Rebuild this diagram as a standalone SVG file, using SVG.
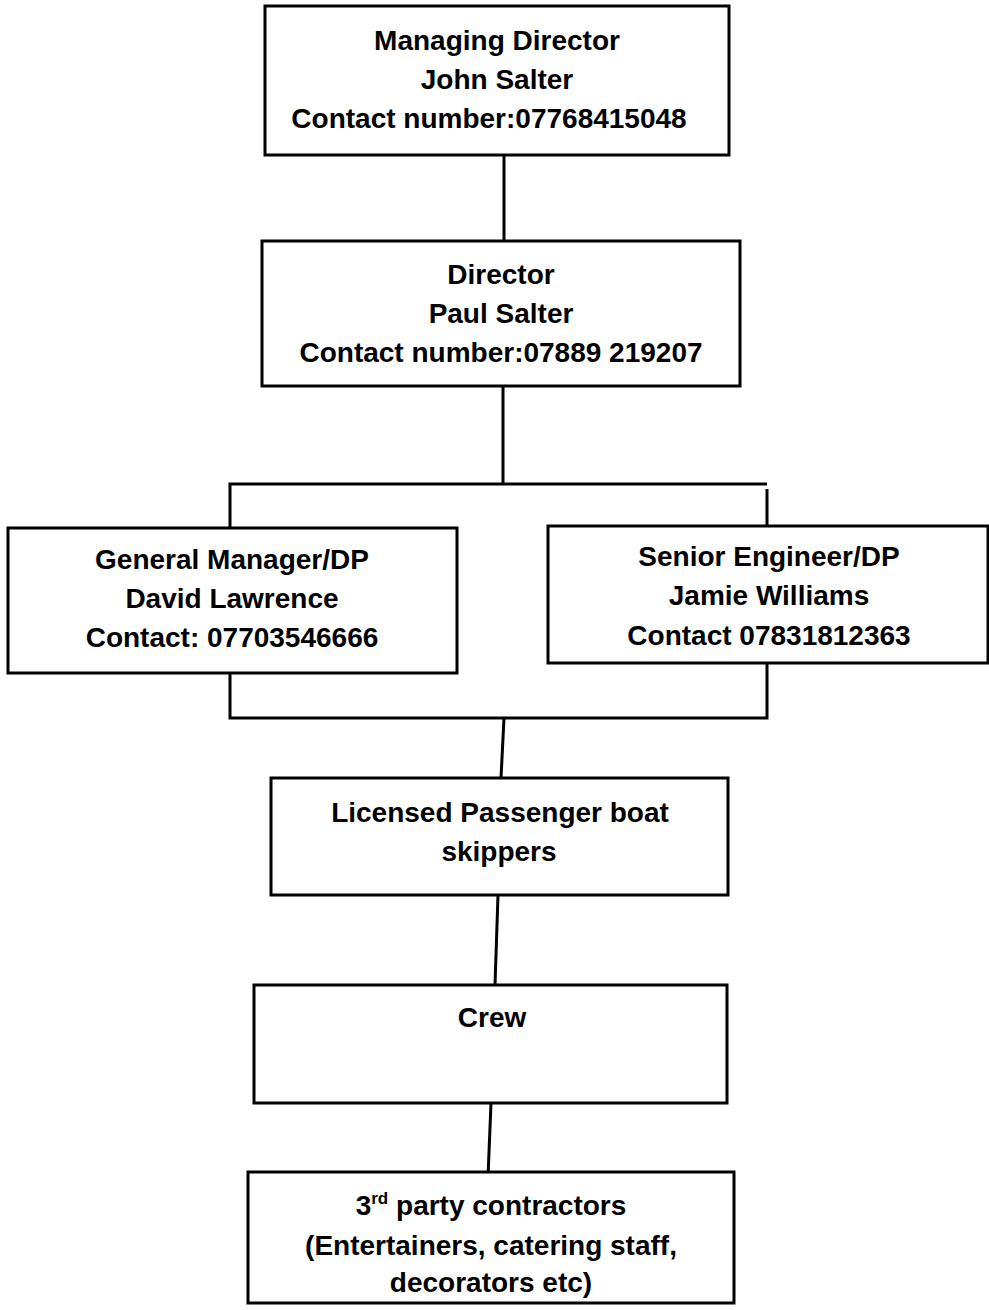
<svg xmlns="http://www.w3.org/2000/svg" width="989" height="1310" viewBox="0 0 989 1310">
<style>
.box{fill:#fff;stroke:#000;stroke-width:3}
.con{fill:none;stroke:#000;stroke-width:3}
text{font-family:"Liberation Sans",Arial,sans-serif;font-weight:bold;font-size:28px;fill:#000;text-anchor:middle}
</style>
<rect width="989" height="1310" fill="#fff"/>
<g id="connectors">
<line class="con" x1="504" y1="155" x2="504" y2="241"/>
<line class="con" x1="503" y1="386" x2="503" y2="484"/>
<polyline class="con" points="230,527 230,484 767,484"/>
<line class="con" x1="767" y1="489" x2="767" y2="526"/>
<polyline class="con" points="230,673 230,718 767,718 767,663"/>
<line class="con" x1="504" y1="718" x2="501" y2="778"/>
<line class="con" x1="498" y1="895" x2="495" y2="985"/>
<line class="con" x1="491" y1="1103" x2="488" y2="1177"/>
</g>
<g id="managing-director">
<rect class="box" x="265" y="6" width="464" height="149"/>
<text x="497" y="50">Managing Director</text>
<text x="497" y="89">John Salter</text>
<text x="489" y="128">Contact number:07768415048</text>
</g>
<g id="director">
<rect class="box" x="262" y="241" width="478" height="145"/>
<text x="501" y="284">Director</text>
<text x="501" y="323">Paul Salter</text>
<text x="501" y="362">Contact number:07889 219207</text>
</g>
<g id="general-manager">
<rect class="box" x="8" y="528" width="449" height="145"/>
<text x="232" y="569">General Manager/DP</text>
<text x="232" y="608">David Lawrence</text>
<text x="232" y="647">Contact: 07703546666</text>
</g>
<g id="senior-engineer">
<rect class="box" x="548" y="526" width="440" height="137"/>
<text x="769" y="566">Senior Engineer/DP</text>
<text x="769" y="605">Jamie Williams</text>
<text x="769" y="645">Contact 07831812363</text>
</g>
<g id="skippers">
<rect class="box" x="271" y="778" width="457" height="117"/>
<text x="500" y="822">Licensed Passenger boat</text>
<text x="499" y="861">skippers</text>
</g>
<g id="crew">
<rect class="box" x="254" y="985" width="473" height="118"/>
<text x="492" y="1027">Crew</text>
</g>
<g id="contractors">
<rect class="box" x="248" y="1172" width="486" height="131"/>
<text x="491" y="1215">3<tspan font-size="17" dy="-11">rd</tspan><tspan dy="11"> party contractors</tspan></text>
<text x="491" y="1255">(Entertainers, catering staff,</text>
<text x="491" y="1292">decorators etc)</text>
</g>
</svg>
